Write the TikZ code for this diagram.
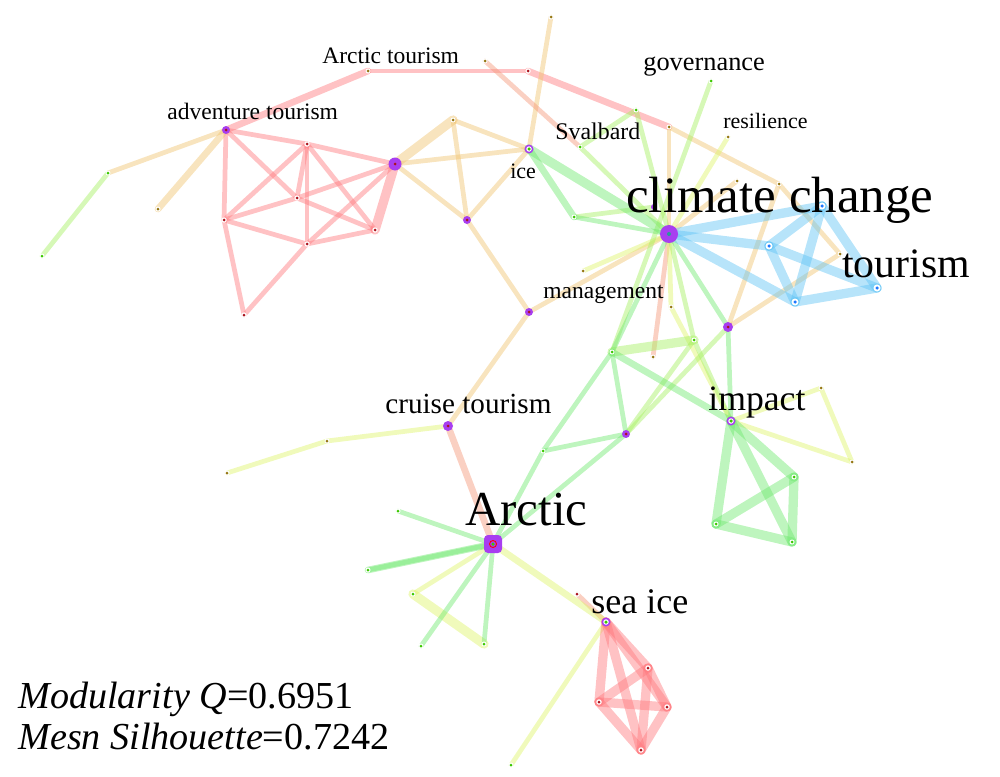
\documentclass[tikz,border=0pt]{standalone}
\usepackage{fontspec}
\setmainfont{Liberation Serif}
\usetikzlibrary{calc}
\definecolor{cRed}{RGB}{255,120,125}
\definecolor{cOra}{RGB}{240,195,110}
\definecolor{cSal}{RGB}{245,150,120}
\definecolor{cYel}{RGB}{222,244,105}
\definecolor{cLim}{RGB}{165,240,95}
\definecolor{cGrn}{RGB}{110,232,110}
\definecolor{cBlu}{RGB}{95,195,245}
\definecolor{cPur}{RGB}{168,62,240}
\definecolor{dRed}{RGB}{170,20,30}
\definecolor{dOli}{RGB}{150,120,20}
\definecolor{dGrn}{RGB}{60,200,0}
\definecolor{dBlu}{RGB}{30,120,255}

\begin{document}
\begin{tikzpicture}[x=0.2mm,y=-0.2mm,
	ed/.style={line width=2.7pt,line cap=round,draw opacity=0.45},
	edw/.style={ed,line width=3.8pt},
	edx/.style={ed,line width=5.3pt},
	lbl/.style={anchor=base west,inner sep=0pt}]
	\useasboundingbox (0,0) rectangle (1000,776);
	% vertices
	\coordinate (adv) at (226,130);  \coordinate (arctour) at (368,71);
	\coordinate (rtop) at (528,71);  \coordinate (brn) at (669,127);
	\coordinate (lf1) at (108,173);  \coordinate (lf2) at (42,256);
	\coordinate (lf3) at (158,209);
	\coordinate (r1) at (307,144);   \coordinate (r2) at (297,198);
	\coordinate (r3) at (224,220);   \coordinate (r4) at (307,244);
	\coordinate (r5) at (375,230);   \coordinate (r6) at (244,315);
	\coordinate (hub) at (395,164);  \coordinate (ya) at (453,120);
	\coordinate (hb) at (467,220);   \coordinate (ice) at (529,149);
	\coordinate (topn) at (551,17);  \coordinate (sal) at (485,61);
	\coordinate (sval) at (580,147); \coordinate (gsv) at (636,110);
	\coordinate (gov) at (711,81);   \coordinate (res) at (728,137);
	\coordinate (oa) at (737,181);   \coordinate (ob) at (779,184);
	\coordinate (gic) at (574,217);  \coordinate (cc) at (669,234);
	\coordinate (ppc) at (654,207);
	\coordinate (b1) at (822,206);   \coordinate (b2) at (769,246);
	\coordinate (b3) at (795,302);   \coordinate (tour) at (877,288);
	\coordinate (oc) at (840,254);
	\coordinate (mgs) at (583,271);  \coordinate (mgp) at (529,312);
	\coordinate (yc) at (671,307);   \coordinate (pq) at (728,327);
	\coordinate (g1) at (612,352);   \coordinate (g2) at (694,340);
	\coordinate (osl) at (653,357);  \coordinate (imp) at (731,421);
	\coordinate (pz) at (626,434);   \coordinate (gw) at (543,451);
	\coordinate (y1) at (821,388);   \coordinate (y2) at (852,462);
	\coordinate (i1) at (794,477);   \coordinate (i2) at (716,524);
	\coordinate (i3) at (792,542);
	\coordinate (cru) at (448,426);  \coordinate (cw1) at (327,441);
	\coordinate (cw2) at (227,473);  \coordinate (arc) at (493,544);
	\coordinate (a1) at (398,511);   \coordinate (a2) at (368,570);
	\coordinate (a3) at (413,594);   \coordinate (a4) at (484,644);
	\coordinate (a5) at (421,646);
	\coordinate (sri) at (577,594);  \coordinate (sea) at (606,622);
	\coordinate (s1) at (648,668);   \coordinate (s2) at (599,702);
	\coordinate (s3) at (667,707);   \coordinate (s4) at (641,750);
	\coordinate (sy) at (511,765);

	% edges
	\foreach \a/\b in {adv/r1,adv/r2,adv/r3,r1/hub,r1/r2,r1/r3,r1/r4,r1/r5,r2/hub,r2/r5,r3/r2,r3/r4,r3/r6,r4/r6,r4/r5,r4/hub,arctour/rtop}
		\draw[ed,cRed] (\a)--(\b);
	\draw[edw,cRed] (adv)--(arctour) (rtop)--(brn);
	\draw[edx,cRed] (r5)--(hub);
	\foreach \a/\b in {adv/lf1,hub/ice,hub/hb,ya/hb,ya/ice,hb/ice,hb/mgp,mgp/cru,mgp/cc,ice/topn,brn/cc,brn/ob,ob/oc,oc/pq,ob/pq,cc/oa}
		\draw[ed,cOra] (\a)--(\b);
	\draw[edw,cOra] (adv)--(lf3);
	\draw[edx,cOra] (hub)--(ya);
	\foreach \a/\b in {sal/sval,cc/osl,sea/sri}
		\draw[ed,cSal] (\a)--(\b);
	\draw[edw,cSal] (cru)--(arc);
	\foreach \a/\b in {cc/mgs,cc/res,cc/yc,yc/imp,cru/cw1,cw1/cw2,imp/y1,y1/y2,imp/y2,arc/a3,sea/sy}
		\draw[ed,cYel] (\a)--(\b);
	\draw[edw,cYel] (arc)--(sea);
	\draw[edx,cYel] (a3)--(a4);
	\foreach \a/\b in {lf1/lf2,sval/gsv,sval/cc,gsv/cc,gov/g1,cc/g2,g2/pz,pq/pz,g2/imp,gic/ppc}
		\draw[ed,cLim] (\a)--(\b);
	\draw[edx,cLim] (g1)--(g2);
	\foreach \a/\b in {gic/cc,cc/g1,cc/pq,pq/imp,g1/pz,g1/gw,gw/pz,gw/arc,pz/arc,arc/a1,arc/a2,arc/a4,arc/a5}
		\draw[ed,cGrn] (\a)--(\b);
	\draw[edw,cGrn] (ice)--(gic) (g1)--(imp) (arc)--(a2);
	\draw[edx,cGrn] (ice)--(cc);
	\foreach \a/\b in {imp/i1,imp/i2,imp/i3,i1/i2,i1/i3,i2/i3}
		\draw[edx,cGrn] (\a)--(\b);
	\foreach \a/\b in {cc/b1,cc/b2,cc/b3,b1/tour,b2/tour,b3/tour,b1/b2,b1/b3,b2/b3}
		\draw[edx,cBlu] (\a)--(\b);
	\foreach \a/\b in {sea/s1,sea/s2,sea/s3,sea/s4,s1/s2,s1/s3,s1/s4,s2/s3,s2/s4,s3/s4}
		\draw[edx,cRed] (\a)--(\b);

	% vertex dots
	\foreach \n in {rtop,r1,r2,r3,r4,r5,r6,sri,s1,s2,s3,s4}
		{\fill[white] (\n) circle (0.55mm); \fill[dRed] (\n) circle (0.3mm);}
	\foreach \n in {arctour,lf3,ya,topn,sal,brn,oa,ob,oc,mgs,osl,res,yc,y1,y2,cw1,cw2}
		{\fill[white] (\n) circle (0.5mm); \fill[dOli] (\n) circle (0.3mm);}
	\foreach \n in {lf1,lf2,sval,gsv,gov,gic,g1,g2,gw,i1,i2,i3,a1,a2,a3,a4,a5,sy}
		{\fill[white] (\n) circle (0.5mm); \fill[dGrn] (\n) circle (0.3mm);}
	\foreach \n in {b1,b2,b3,tour}
		{\fill[white] (\n) circle (0.7mm); \fill[dBlu] (\n) circle (0.35mm);}
	\foreach \n/\r in {adv/0.8,hb/0.8,mgp/0.8,pz/0.8,ppc/0.6,pq/1.0,cru/1.0,hub/1.3}
		{\fill[cPur] (\n) circle (\r mm); \fill[dRed] (\n) circle (0.3mm);}
	\foreach \n in {ice,imp,sea}
		{\fill[cPur] (\n) circle (0.9mm); \fill[white] (\n) circle (0.55mm); \fill[dGrn] (\n) circle (0.35mm);}
	\fill[cPur] (cc) circle (1.8mm); \fill[dBlu!60!dGrn] (cc) circle (0.4mm);
	\fill[cPur,rounded corners=0.8mm] ($(arc)+(-1.8mm,-1.8mm)$) rectangle ($(arc)+(1.8mm,1.8mm)$);
	\draw[red,line width=0.5pt] (arc) circle (0.7mm); \fill[dGrn] (arc) circle (0.35mm);

	% labels
	\node[lbl,font=\fontsize{29}{29}\selectfont] (lcc) at (626,212) {climate change};
	\node[lbl,font=\fontsize{23.8}{24}\selectfont] (ltour) at (842,277) {tourism};
	\node[lbl,font=\fontsize{27.8}{28}\selectfont] (larc) at (465,525) {Arctic};
	\node[lbl,font=\fontsize{20.3}{21}\selectfont] (limp) at (708,410) {impact};
	\node[lbl,font=\fontsize{20.5}{21}\selectfont] (lsea) at (591,613) {sea ice};
	\node[lbl,font=\fontsize{16.6}{17}\selectfont] (lcru) at (385,413) {cruise tourism};
	\node[lbl,font=\fontsize{13.4}{14}\selectfont] (lmg) at (543,298) {management};
	\node[lbl,font=\fontsize{13.6}{14}\selectfont] (lsv) at (555,139) {Svalbard};
	\node[lbl,font=\fontsize{12.5}{13}\selectfont] (lice) at (510,178) {ice};
	\node[lbl,font=\fontsize{15}{15}\selectfont] (lgov) at (643,70) {governance};
	\node[lbl,font=\fontsize{12.5}{13}\selectfont] (lres) at (723,128) {resilience};
	\node[lbl,font=\fontsize{13.4}{14}\selectfont] (lat) at (322,63) {Arctic tourism};
	\node[lbl,font=\fontsize{13.4}{14}\selectfont] (lav) at (167,119) {adventure tourism};
	\node[lbl,font=\fontsize{21.7}{22}\selectfont] (lq) at (18,708) {\textit{Modularity Q}=0.6951};
	\node[lbl,font=\fontsize{21.7}{22}\selectfont] (ls) at (18,749) {\textit{Mesn Silhouette}=0.7242};
\end{tikzpicture}
\end{document}
